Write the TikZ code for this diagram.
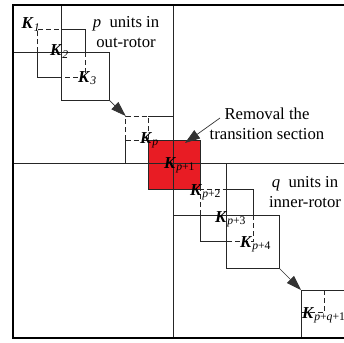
\documentclass[tikz,border=0pt]{standalone}
\usepackage{fontspec}
\setmainfont{Liberation Serif}
\usepackage{xcolor}
\definecolor{secred}{HTML}{E81C24}
\usepackage{tikz}
\usetikzlibrary{arrows.meta}
\tikzset{
  ln/.style   ={draw=black!85, line width=0.8pt},
  dln/.style  ={ln, dash pattern=on 5pt off 3pt},
  frm/.style  ={draw=black, line width=2pt},
  klab/.style ={anchor=base west, inner sep=0pt, font=\fontsize{16.7}{20}\selectfont},
  note/.style ={align=center, inner sep=0pt, font=\fontsize{16.7}{20}\selectfont},
  arr/.style  ={-{Triangle[length=15pt,width=10pt]}, draw=black!80, line width=0.7pt},
}
\newcommand{\kk}[1]{\textbf{\textit{K}}\textsubscript{#1}}

\begin{document}
\begin{tikzpicture}[x=1pt,y=-1pt]
  \useasboundingbox (0,0) rectangle (344,342);
  \clip (0,0) rectangle (344,342);
  % removed transition section
  \fill[secred] (148.3,140) rectangle (200.7,189);
  \draw[ln] (148.3,140) rectangle (200.7,189);
  \draw[ln] (173.3,5.5) -- (173.3,338);
  \draw[ln] (12.7,163.8) -- (350,163.8);
  % out-rotor units
  \draw[ln]  (61,5.5) -- (61,100) -- (109,100) -- (109,52.5) -- (12.7,52.5);
  \draw[dln] (37,52.5) -- (37,29.5) -- (61,29.5);
  \draw[ln]  (61,29.5) -- (85,29.5) -- (85,52.5);
  \draw[dln] (85,52.5) -- (85,77) -- (61,77);
  \draw[ln]  (61,77) -- (37,77) -- (37,52.5);
  \draw[dln] (125.7,140) -- (125.7,116) -- (148.3,116);
  \draw[ln]  (148.3,116) -- (173.3,116);
  \draw[ln]  (125.7,140) -- (125.7,163.8);
  \draw[dln] (125.7,140) -- (148.3,140) -- (148.3,116);
  % inner-rotor units
  \draw[ln]  (226.7,163.8) -- (226.7,268) -- (279,268) -- (279,215) -- (173.3,215);
  \draw[dln] (200.7,215) -- (200.7,189) -- (226.7,189);
  \draw[ln]  (226.7,189) -- (253,189) -- (253,215);
  \draw[dln] (253,215) -- (253,241.7) -- (226.7,241.7);
  \draw[ln]  (226.7,241.7) -- (200.7,241.7) -- (200.7,215);
  \draw[ln]  (350,290) -- (301,290) -- (301,338);
  \draw[dln] (324.3,290) -- (324.3,312.7) -- (301,312.7);
  \draw[frm] (12.7,5.5) rectangle (352,338);

  \coordinate (o3) at (109,100);
  \coordinate (op) at (125.7,116);
  \coordinate (i4) at (279,268);
  \coordinate (iq) at (301,290);
  \draw[arr] (o3) -- (op);
  \draw[arr] (i4) -- (iq);

  \node[klab] (k1) at (21.5,28.5) {\kk{\textit{1}}};
  \node[klab] (k2) at (50,56) {\kk{\textit{2}}};
  \node[klab] (k3) at (78,82) {\kk{\textit{3}}};
  \node[klab] (kp) at (140,143) {\kk{\textit{p}}};
  \node[klab] (kp1) at (164,168) {\kk{\textit{p}+1}};
  \node[klab] (kp2) at (190,195) {\kk{\textit{p}+2}};
  \node[klab] (kp3) at (215,222) {\kk{\textit{p}+3}};
  \node[klab] (kp4) at (240,247) {\kk{\textit{p}+4}};
  \node[klab] (kpq) at (302,318) {\kk{\textit{p}+\textit{q}+1}};

  \node[note] (outer) at (126,32) {\textit{p}~ units in\\out-rotor};
  \node[note] (inner) at (305,192) {\textit{q}~ units in\\inner-rotor};
  \node[note] (removal) at (267,124) {Removal the\\transition section};
  \coordinate (rmtail) at (220,118);
  \coordinate (rmtip) at (185,143);
  \draw[arr] (rmtail) -- (rmtip);
\end{tikzpicture}
\end{document}
